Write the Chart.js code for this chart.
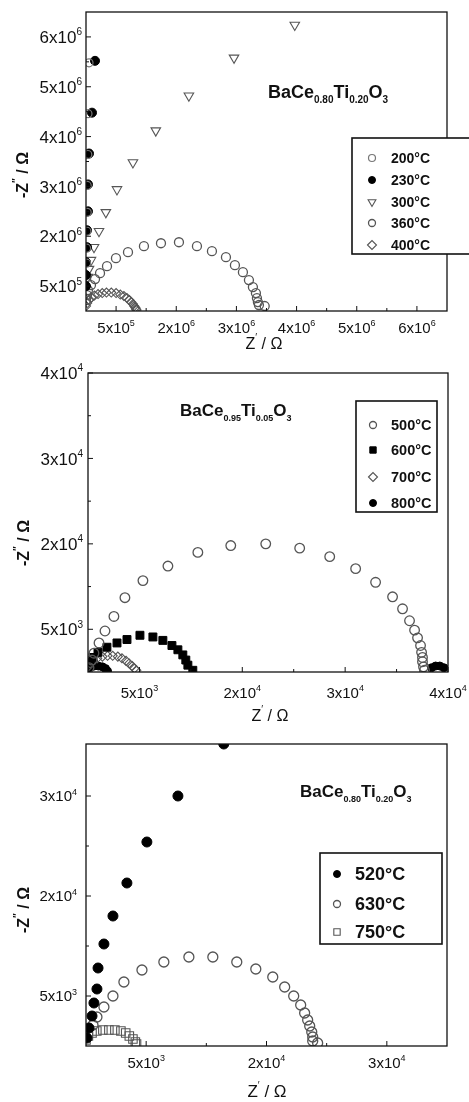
<!DOCTYPE html>
<html><head><meta charset="utf-8">
<script src="https://cdn.jsdelivr.net/npm/chart.js@4.4.1/dist/chart.umd.min.js"></script>
<style>
html,body{margin:0;padding:0;background:#fff;}
body{width:469px;height:1102px;position:relative;overflow:hidden;}
canvas{position:absolute;left:0;}
</style></head>
<body>
<canvas id="c1" width="469" height="355" style="top:0px"></canvas>
<canvas id="c2" width="469" height="370" style="top:355px"></canvas>
<canvas id="c3" width="469" height="377" style="top:725px"></canvas>
<script>
// ---------------- DATA ----------------
// Panel 1: BaCe0.80Ti0.20O3, values in units of 10^6 Ω
const p1_series = ['200°C','230°C','300°C','360°C','400°C'];
const p1_T200_x = [0.05,0.033,0.03,0.02,0.02,0.015,0.01,0.01];
const p1_T200_y = [4.98,3.96,3.14,2.52,1.98,1.60,1.26,0.96];
const p1_T230_x = [0.15,0.10,0.05,0.033,0.033,0.017,0.017,0.0,0.0,0.0];
const p1_T230_y = [5.02,3.98,3.16,2.54,2.00,1.62,1.28,0.98,0.72,0.50];
const p1_T300_x = [3.47,2.46,1.71,1.16,0.78,0.515,0.33,0.216,0.133,0.083,0.05,0.03];
const p1_T300_y = [5.74,5.08,4.32,3.62,2.98,2.44,1.98,1.60,1.28,1.02,0.84,0.68];
const p1_T360_x = [0.0,0.017,0.033,0.083,0.15,0.233,0.349,0.498,0.698,0.963,1.246,1.545,1.844,2.093,2.326,2.475,2.608,2.708,2.774,2.824,2.841,2.857,2.874,2.97];
const p1_T360_y = [0.22,0.32,0.42,0.52,0.64,0.76,0.90,1.06,1.18,1.30,1.36,1.38,1.30,1.20,1.08,0.92,0.78,0.62,0.48,0.36,0.26,0.18,0.12,0.10];
const p1_T400_x = [0.0,0.02,0.05,0.09,0.14,0.20,0.27,0.34,0.42,0.50,0.57,0.63,0.68,0.72,0.75,0.78,0.80,0.82,0.83,0.84];
const p1_T400_y = [0.10,0.16,0.22,0.27,0.31,0.34,0.36,0.37,0.37,0.36,0.33,0.30,0.26,0.22,0.18,0.14,0.10,0.07,0.04,0.02];
const p1_xTickValues = [0.5,1.5,2.5,3.5,4.5,5.5];
const p1_xTickLabels = ['5x10^5','2x10^6','3x10^6','4x10^6','5x10^6','6x10^6'];
const p1_yTickValues = [0.5,1.5,2.5,3.5,4.5,5.5];
const p1_yTickLabels = ['5x10^5','2x10^6','3x10^6','4x10^6','5x10^6','6x10^6'];
const p1_minorTicks = [1,2,3,4,5];

// Panel 2: BaCe0.95Ti0.05O3, values in units of 10^4 Ω
const p2_series = ['500°C','600°C','700°C','800°C'];
const p2_T500_x = [0.01,0.039,0.058,0.107,0.165,0.252,0.359,0.534,0.777,1.068,1.388,1.728,2.058,2.35,2.602,2.796,2.961,3.058,3.126,3.175,3.204,3.233,3.243,3.252,3.252,3.262,3.272];
const p2_T500_y = [0.05,0.14,0.22,0.34,0.48,0.65,0.87,1.07,1.24,1.40,1.48,1.50,1.45,1.35,1.21,1.05,0.88,0.74,0.60,0.49,0.40,0.31,0.23,0.17,0.12,0.06,0.02];
const p2_T600_x = [0.019,0.049,0.097,0.184,0.282,0.379,0.505,0.631,0.728,0.816,0.874,0.922,0.951,0.971,1.019];
const p2_T600_y = [0.12,0.17,0.23,0.29,0.34,0.38,0.43,0.41,0.37,0.31,0.26,0.20,0.14,0.08,0.02];
const p2_T700_x = [0.0,0.02,0.05,0.09,0.14,0.19,0.24,0.29,0.33,0.37,0.40,0.43,0.45,0.47];
const p2_T700_y = [0.06,0.10,0.13,0.16,0.18,0.19,0.19,0.18,0.16,0.13,0.10,0.07,0.04,0.02];
const p2_T800_x = [0.0,0.03,0.06,0.10,0.14,0.17,0.19,3.34,3.38,3.42,3.46];
const p2_T800_y = [0.03,0.06,0.07,0.07,0.06,0.04,0.01,0.05,0.07,0.07,0.05];
const p2_xTickValues = [0.5,1.5,2.5,3.5];
const p2_xTickLabels = ['5x10^3','2x10^4','3x10^4','4x10^4'];
const p2_yTickValues = [0.5,1.5,2.5,3.5];
const p2_yTickLabels = ['5x10^3','2x10^4','3x10^4','4x10^4'];
const p2_minorTicks = [1,2,3];

// Panel 3: BaCe0.80Ti0.20O3, values in units of 10^4 Ω
const p3_series = ['520°C','630°C','750°C'];
const p3_T520_x = [1.145,0.764,0.506,0.340,0.224,0.149,0.10,0.091,0.066,0.05,0.025,0.008];
const p3_T520_y = [3.02,2.50,2.04,1.63,1.30,1.02,0.78,0.57,0.43,0.30,0.18,0.08];
const p3_T630_x = [0.058,0.091,0.149,0.224,0.315,0.465,0.647,0.855,1.054,1.253,1.411,1.552,1.651,1.726,1.784,1.817,1.842,1.859,1.876,1.884,1.884,1.925];
const p3_T630_y = [0.21,0.29,0.39,0.50,0.64,0.76,0.84,0.89,0.89,0.84,0.77,0.69,0.59,0.50,0.41,0.33,0.26,0.20,0.14,0.09,0.05,0.03];
const p3_T750_x = [0.0,0.02,0.05,0.09,0.14,0.19,0.24,0.29,0.33,0.36,0.39,0.41,0.42];
const p3_T750_y = [0.06,0.10,0.13,0.15,0.16,0.16,0.16,0.15,0.13,0.10,0.07,0.04,0.02];
const p3_xTickValues = [0.5,1.5,2.5];
const p3_xTickLabels = ['5x10^3','2x10^4','3x10^4'];
const p3_yTickValues = [0.5,1.5,2.5];
const p3_yTickLabels = ['5x10^3','2x10^4','3x10^4'];
const p3_minorTicks = [1,2];

// ---------------- HELPERS ----------------
const FF = '"Liberation Sans", Arial, Helvetica, sans-serif';
function pts(xs, ys){ return xs.map((x,i)=>({x:x, y:ys[i]})); }
const OPEN = 'rgba(255,255,255,0)';
function ds(label, xs, ys, st){
  return {label, data: pts(xs,ys), pointStyle: st.style, rotation: st.rot||0,
    pointRadius: st.r, pointHoverRadius: st.r,
    pointBackgroundColor: st.fill, pointBorderColor: st.stroke,
    pointBorderWidth: st.bw, showLine:false, legR: st.legR};
}
function richWidth(ctx, parts){
  let w=0; parts.forEach(p=>{ctx.font=(p.bold?'bold ':'')+p.s+'px '+FF; w+=ctx.measureText(p.t).width;}); return w;
}
function drawRich(ctx, parts, x, y, align){
  const w = richWidth(ctx, parts);
  let cx = align==='center'? x-w/2 : (align==='right'? x-w : x);
  parts.forEach(p=>{ctx.font=(p.bold?'bold ':'')+p.s+'px '+FF; ctx.fillText(p.t, cx, y+(p.dy||0)); cx+=ctx.measureText(p.t).width;});
}
function tickParts(lbl, s){
  const [b,e] = lbl.split('^');
  return [{t:b,s:s},{t:e,s:Math.round(s*0.6),dy:-s*0.45}];
}
function line(ctx,x1,y1,x2,y2){ctx.beginPath();ctx.moveTo(x1,y1);ctx.lineTo(x2,y2);ctx.stroke();}

const decor = {
  id:'decor',
  afterDatasetsDraw(chart, args, o){
    const ctx=chart.ctx, a=chart.chartArea, xs=chart.scales.x, ys=chart.scales.y;
    ctx.save();
    ctx.strokeStyle='#111'; ctx.fillStyle='#111';
    ctx.lineWidth=1.3;
    ctx.strokeRect(a.left, a.top, a.right-a.left, a.bottom-a.top);
    ctx.lineWidth=1;
    o.xMajor.forEach(v=>{const p=xs.getPixelForValue(v); line(ctx,p,a.bottom,p,a.bottom-5);});
    o.minor.forEach(v=>{const p=xs.getPixelForValue(v); if(p<a.right-1) line(ctx,p,a.bottom,p,a.bottom-3);});
    o.yMajor.forEach(v=>{const p=ys.getPixelForValue(v); line(ctx,a.left,p,a.left+5,p);});
    o.minor.forEach(v=>{const p=ys.getPixelForValue(v); if(p>a.top+1) line(ctx,a.left,p,a.left+3,p);});
    ctx.textBaseline='alphabetic';
    o.xMajor.forEach((v,i)=>drawRich(ctx, tickParts(o.xLabels[i], o.xFont), xs.getPixelForValue(v), a.bottom+o.xLabOff, 'center'));
    o.yMajor.forEach((v,i)=>drawRich(ctx, tickParts(o.yLabels[i], o.yFont), a.left-o.yLabGap, ys.getPixelForValue(v)+o.yFont*0.36, 'right'));
    // axis titles
    const xt=o.xTitle;
    drawRich(ctx,[{t:'Z',s:xt.s},{t:'\u2032',s:Math.round(xt.s*0.6),dy:-xt.s*0.5},{t:' / \u03A9',s:xt.s}], xt.x, xt.y, 'center');
    const yt=o.yTitle;
    ctx.save(); ctx.translate(yt.x, yt.y); ctx.rotate(-Math.PI/2);
    drawRich(ctx,[{t:'-Z',s:yt.s,bold:true},{t:'\u2033',s:Math.round(yt.s*0.6),dy:-yt.s*0.5,bold:true},{t:' / \u03A9',s:yt.s,bold:true}], 0, yt.s*0.36, 'center');
    ctx.restore();
    // compound title
    const ct=o.comp, S=ct.s, s2=Math.round(S*0.55), d=S*0.3;
    const parts=ct.parts.map((t,i)=> i%2===0 ? {t, s:S, bold:true} : {t, s:s2, bold:true, dy:d});
    drawRich(ctx, parts, ct.x, ct.y, 'left');
    // legend
    const lg=o.legend;
    ctx.lineWidth=1.6; ctx.strokeStyle='#111';
    ctx.fillStyle='#fff';
    ctx.fillRect(lg.box[0],lg.box[1],lg.box[2]-lg.box[0],lg.box[3]-lg.box[1]);
    ctx.strokeRect(lg.box[0],lg.box[1],lg.box[2]-lg.box[0],lg.box[3]-lg.box[1]);
    chart.data.datasets.forEach((dsx,i)=>{
      const y=lg.rows[i];
      ctx.fillStyle=dsx.pointBackgroundColor; ctx.strokeStyle=dsx.pointBorderColor;
      ctx.lineWidth=dsx.pointBorderWidth;
      Chart.helpers.drawPoint(ctx,{pointStyle:dsx.pointStyle,rotation:dsx.rotation,radius:dsx.legR,borderWidth:dsx.pointBorderWidth},lg.mx,y);
      ctx.fillStyle='#111'; ctx.textBaseline='middle';
      ctx.font='bold '+lg.s+'px '+FF;
      ctx.fillText(dsx.label, lg.tx, y+1);
    });
    ctx.restore();
  }
};
Chart.register(decor);

function makeChart(id, datasets, cfg){
  return new Chart(document.getElementById(id), {
    type:'scatter',
    data:{datasets},
    options:{
      responsive:false, animation:false, devicePixelRatio:1,
      layout:{padding:{top:cfg.padTop,right:cfg.padRight,left:0,bottom:0}},
      plugins:{legend:{display:false}, tooltip:{enabled:false}, decor:cfg.decor},
      scales:{
        x:{type:'linear', min:cfg.xmin, max:cfg.xmax, ticks:{display:false}, grid:{display:false}, border:{display:false},
           afterFit:(s)=>{s.height=cfg.xH;}},
        y:{type:'linear', min:cfg.ymin, max:cfg.ymax, ticks:{display:false}, grid:{display:false}, border:{display:false},
           afterFit:(s)=>{s.width=cfg.yW;}}
      }
    }
  });
}
const G='#555';
// Panel 1
makeChart('c1', [
  ds(p1_series[0], p1_T200_x, p1_T200_y, {style:'circle', r:4, fill:OPEN, stroke:'#777', bw:1.2, legR:3.5}),
  ds(p1_series[1], p1_T230_x, p1_T230_y, {style:'circle', r:4.5, fill:'#000', stroke:'#000', bw:1, legR:3.5}),
  ds(p1_series[2], p1_T300_x, p1_T300_y, {style:'triangle', rot:180, r:5.5, fill:OPEN, stroke:G, bw:1.1, legR:4.5}),
  ds(p1_series[3], p1_T360_x, p1_T360_y, {style:'circle', r:4.5, fill:OPEN, stroke:G, bw:1.3, legR:3.5}),
  ds(p1_series[4], p1_T400_x, p1_T400_y, {style:'rectRot', r:4.5, fill:OPEN, stroke:G, bw:1.1, legR:4.5})
], {padTop:12, padRight:22, xH:44, yW:86, xmin:0, xmax:6.0, ymin:0, ymax:6.0,
  decor:{xMajor:p1_xTickValues, xLabels:p1_xTickLabels, yMajor:p1_yTickValues, yLabels:p1_yTickLabels, minor:p1_minorTicks,
    xFont:15, yFont:17, xLabOff:22, yLabGap:4,
    xTitle:{x:264,y:349,s:16}, yTitle:{x:22,y:175,s:16},
    comp:{x:268,y:98,s:18,parts:['BaCe','0.80','Ti','0.20','O','3']},
    legend:{box:[352,138,480,254], rows:[158,180,202,223,245], mx:372, tx:391, s:14}}});
// Panel 2
makeChart('c2', [
  ds(p2_series[0], p2_T500_x, p2_T500_y, {style:'circle', r:4.8, fill:OPEN, stroke:G, bw:1.3, legR:3.5}),
  ds(p2_series[1], p2_T600_x, p2_T600_y, {style:'rect', r:5.6, fill:'#000', stroke:'#000', bw:1, legR:4.5}),
  ds(p2_series[2], p2_T700_x, p2_T700_y, {style:'rectRot', r:4.5, fill:OPEN, stroke:G, bw:1.1, legR:4.5}),
  ds(p2_series[3], p2_T800_x, p2_T800_y, {style:'circle', r:4, fill:'#000', stroke:'#000', bw:1, legR:3.5})
], {padTop:18, padRight:21, xH:53, yW:88, xmin:0, xmax:3.5, ymin:0, ymax:3.5,
  decor:{xMajor:p2_xTickValues, xLabels:p2_xTickLabels, yMajor:p2_yTickValues, yLabels:p2_yTickLabels, minor:p2_minorTicks,
    xFont:15, yFont:17, xLabOff:26, yLabGap:5,
    xTitle:{x:270,y:366,s:16}, yTitle:{x:23,y:188,s:16},
    comp:{x:180,y:61,s:17,parts:['BaCe','0.95','Ti','0.05','O','3']},
    legend:{box:[356,46,437,157], rows:[70,95,122,148], mx:373, tx:391, s:14.5}}});
// Panel 3
makeChart('c3', [
  ds(p3_series[0], p3_T520_x, p3_T520_y, {style:'circle', r:5, fill:'#000', stroke:'#000', bw:1, legR:3.5}),
  ds(p3_series[1], p3_T630_x, p3_T630_y, {style:'circle', r:5, fill:OPEN, stroke:G, bw:1.3, legR:3.5}),
  ds(p3_series[2], p3_T750_x, p3_T750_y, {style:'rect', r:6, fill:OPEN, stroke:G, bw:1.1, legR:4.5})
], {padTop:19, padRight:22, xH:56, yW:86, xmin:0, xmax:3.0, ymin:0, ymax:3.02,
  decor:{xMajor:p3_xTickValues, xLabels:p3_xTickLabels, yMajor:p3_yTickValues, yLabels:p3_yTickLabels, minor:p3_minorTicks,
    xFont:15, yFont:15, xLabOff:22, yLabGap:9,
    xTitle:{x:267,y:372,s:17}, yTitle:{x:23,y:185,s:16},
    comp:{x:300,y:72,s:17,parts:['BaCe','0.80','Ti','0.20','O','3']},
    legend:{box:[320,128,442,219], rows:[149,179,207], mx:337, tx:355, s:18}}});
</script>
</body></html>
